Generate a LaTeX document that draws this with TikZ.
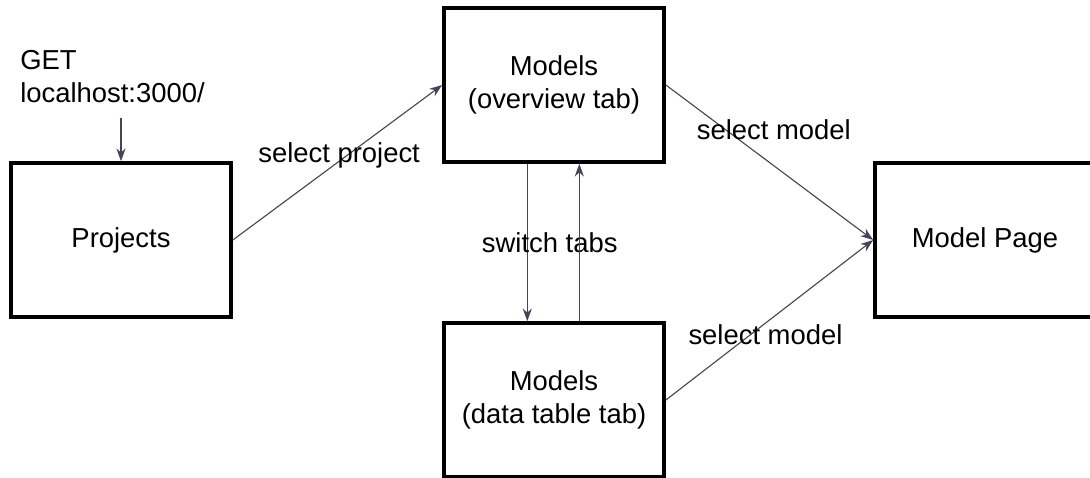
\documentclass[tikz,border=0pt]{standalone}
\usepackage{fontspec}
\setmainfont{Liberation Sans}
\usetikzlibrary{arrows.meta}
\definecolor{linkgray}{HTML}{45455A}

\begin{document}
\begin{tikzpicture}[x=0.025cm, y=-0.025cm, font=\fontsize{19.5}{23.5}\selectfont,
  main/.style = {draw, line width=2.6pt, align=center, minimum width=5.5cm, minimum height=3.85cm},
  link/.style = {draw=linkgray, line width=0.8pt, -{Stealth[length=9pt,width=6.5pt]}}]
\useasboundingbox (0,0) rectangle (1090,478);
\node[main] (proj) at (121,240) {Projects};
\node[main] (over) at (554,85) {Models\\(overview tab)};
\node[main] (table) at (554,400) {Models\\(data table tab)};
\node[main] (page) at (985,240) {Model Page};
\node[align=left, anchor=north west, inner sep=0pt] (get) at (20,50) {GET\\localhost:3000/};
\draw[link] ([yshift=-11pt]get.south -| proj.north) -- (proj.north);
\draw[link] (proj.east) -- node[pos=0.548, xshift=-6pt] {select project} (over.west);
\draw[link] ([xshift=-19pt]over.south) -- node[pos=0.5, xshift=16pt] {switch tabs} ([xshift=-19pt]table.north);
\draw[link] ([xshift=18pt]table.north) -- ([xshift=18pt]over.south);
\draw[link] (over.east) -- node[pos=0.29, xshift=34pt] {select model} (page.west);
\draw[link] (table.east) -- node[pos=0.406, xshift=11pt] {select model} (page.west);
\end{tikzpicture}
\end{document}
